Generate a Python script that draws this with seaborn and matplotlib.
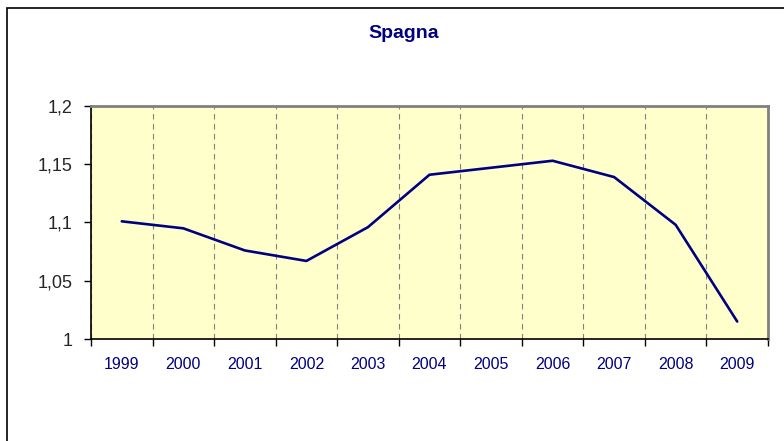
import pandas as pd
import matplotlib
matplotlib.use('Agg')
import matplotlib.pyplot as plt
import seaborn as sns
from matplotlib.patches import Rectangle
from matplotlib.ticker import FixedLocator, FuncFormatter

# dati
anni = ['1999', '2000', '2001', '2002', '2003', '2004', '2005', '2006', '2007', '2008', '2009']
valori = [1.101, 1.095, 1.076, 1.067, 1.096, 1.141, 1.147, 1.153, 1.139, 1.098, 1.015]
y_ticks = [1.0, 1.05, 1.1, 1.15, 1.2]

df = pd.DataFrame({'pos': range(len(anni)), 'valore': valori})

sns.set_style('white')
plt.rcParams['font.family'] = ['Liberation Sans', 'DejaVu Sans']

fig = plt.figure(figsize=(7.84, 4.41), dpi=100)
ax = fig.add_axes([91 / 784, 102 / 441, 677 / 784, 233 / 441])

# cornice del grafico (tagliata a destra e in basso)
fig.patches.append(Rectangle((7 / 784, -0.05), 1.2, (441 - 8) / 441 + 0.05,
                             transform=fig.transFigure, fill=False,
                             edgecolor='black', linewidth=1.2, clip_on=False))

ax.set_facecolor('#FFFFCC')
sns.lineplot(data=df, x='pos', y='valore', ax=ax, color='#000080', linewidth=1.9)

ax.set_xlim(-0.5, len(anni) - 0.5)
ax.set_ylim(1.0, 1.2)

ax.set_xticks(range(len(anni)))
ax.set_xticklabels(anni, color='#000080', fontsize=11.5)
ax.xaxis.set_minor_locator(FixedLocator([i + 0.5 for i in range(-1, len(anni))]))
ax.tick_params(axis='x', which='major', length=0, pad=13)
ax.tick_params(axis='x', which='minor', length=5, width=1, color='black', direction='out', bottom=True)
ax.grid(True, which='minor', axis='x', linestyle=(0, (5, 4)), color='#808080', linewidth=0.8)

ax.set_yticks(y_ticks)
ax.yaxis.set_major_formatter(FuncFormatter(lambda v, p: ('%g' % round(v, 2)).replace('.', ',')))
ax.tick_params(axis='y', length=5, width=1, color='black', direction='out', left=True, labelsize=13, pad=8)

ax.set_xlabel('')
ax.set_ylabel('')

for s in ['left', 'bottom']:
    ax.spines[s].set_color('black')
    ax.spines[s].set_linewidth(1.2)
for s in ['top', 'right']:
    ax.spines[s].set_color('#808080')
    ax.spines[s].set_linewidth(2)

fig.text(404 / 784, 1 - 34 / 441, 'Spagna', ha='center', va='center',
         fontsize=14, fontweight='bold', color='#000080')

fig.savefig('out.png', dpi=100)
